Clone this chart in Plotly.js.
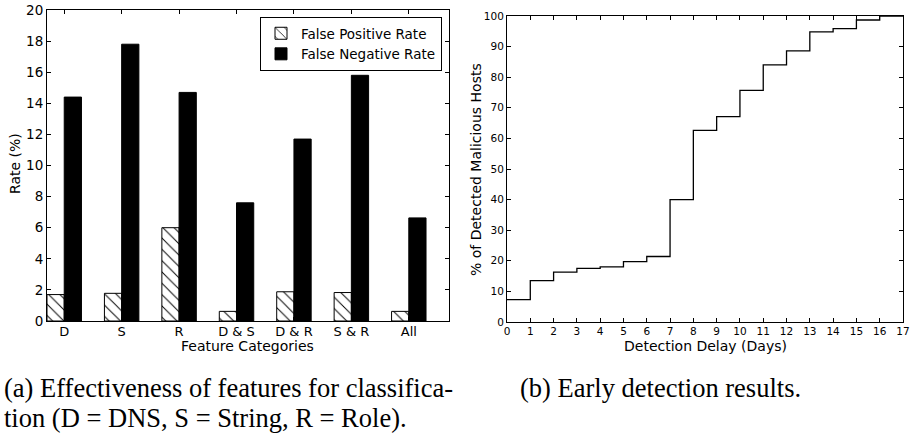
<!DOCTYPE html>
<html>
<head>
<meta charset="utf-8">
<script src="https://cdn.plot.ly/plotly-3.0.1.min.js"></script>
<style>html,body{margin:0;padding:0;background:#fff;}#chart{width:911px;height:433px;}</style>
</head>
<body>
<div id="chart"></div>
<script>
// Panel (a)
const categories = ["D", "S", "R", "D & S", "D & R", "S & R", "All"];
const falsePositiveRate = [1.7, 1.78, 6.0, 0.62, 1.88, 1.83, 0.62];
const falseNegativeRate = [14.4, 17.8, 14.7, 7.6, 11.7, 15.8, 6.63];
// Panel (b)
const delayDays = [0, 1, 2, 3, 4, 5, 6, 7, 8, 9, 10, 11, 12, 13, 14, 15, 16, 17];
const detectedPct = [7.3, 13.5, 16.3, 17.5, 18.0, 19.7, 21.4, 40.0, 62.6, 67.1, 75.7, 84.0, 88.6, 94.8, 95.9, 98.7, 100, 100];
const yTicksA = [0, 2, 4, 6, 8, 10, 12, 14, 16, 18, 20];
const yTicksB = [0, 10, 20, 30, 40, 50, 60, 70, 80, 90, 100];

const barW = 0.3;
const idx = categories.map((c, i) => i);
const fpX = idx.map(i => i + barW / 2);
const fnX = idx.map(i => i + barW * 1.5);
const tickX = idx.map(i => i + barW);

const W = 911, H = 433;
const px = v => v / W;
const py = v => 1 - v / H;

const sans = "DejaVu Sans";
const serif = "Liberation Serif";

const traces = [
  {
    type: "bar", name: "False Positive Rate", x: fpX, y: falsePositiveRate, width: barW,
    xaxis: "x", yaxis: "y",
    marker: {color: "white", line: {color: "black", width: 1},
      pattern: {shape: "\\", fgcolor: "black", bgcolor: "white", size: 8, solidity: 0.12}}
  },
  {
    type: "bar", name: "False Negative Rate", x: fnX, y: falseNegativeRate, width: barW,
    xaxis: "x", yaxis: "y",
    marker: {color: "black", line: {color: "black", width: 1}}
  },
  {
    type: "scatter", mode: "lines", x: delayDays, y: detectedPct, xaxis: "x2", yaxis: "y2",
    line: {shape: "hv", color: "black", width: 1.3}, showlegend: false
  }
];

const axisCommon = {
  showline: true, linecolor: "black", linewidth: 1, mirror: "ticks",
  ticks: "inside", ticklen: 4, tickcolor: "black", tickwidth: 1,
  showgrid: false, zeroline: false, fixedrange: true
};

const layout = {
  width: W, height: H,
  margin: {l: 0, r: 0, t: 0, b: 0},
  paper_bgcolor: "white", plot_bgcolor: "white",
  barmode: "overlay",
  showlegend: true,
  font: {family: sans, color: "black"},
  xaxis: Object.assign({}, axisCommon, {
    domain: [px(47), px(449)], range: [0, 7], tickmode: "array",
    tickvals: tickX, ticktext: categories, tickfont: {size: 13, family: sans}, anchor: "y",
    ticklabelstandoff: -2
  }),
  yaxis: Object.assign({}, axisCommon, {
    domain: [py(321), py(10)], range: [0, 20], tickmode: "array", tickvals: yTicksA,
    tickfont: {size: 13.5, family: sans}, anchor: "x"
  }),
  xaxis2: Object.assign({}, axisCommon, {
    domain: [px(507), px(903)], range: [0, 17], tickmode: "array", tickvals: delayDays,
    tickfont: {size: 10.5, family: sans}, anchor: "y2", ticklabelstandoff: -1
  }),
  yaxis2: Object.assign({}, axisCommon, {
    domain: [py(322), py(16)], range: [0, 100], tickmode: "array", tickvals: yTicksB,
    tickfont: {size: 10.5, family: sans}, anchor: "x2"
  }),
  legend: {
    x: px(442), y: py(17), xanchor: "right", yanchor: "top",
    bordercolor: "black", borderwidth: 1, bgcolor: "white",
    font: {size: 13.5, family: sans}, tracegroupgap: 0
  },
  annotations: [
    {text: "Rate (%)", xref: "paper", yref: "paper", x: px(15), y: py(164), textangle: -90,
     showarrow: false, font: {size: 14, family: sans}, xanchor: "center", yanchor: "middle"},
    {text: "Feature Categories", xref: "paper", yref: "paper", x: px(248), y: py(346),
     showarrow: false, font: {size: 14, family: sans}, xanchor: "center", yanchor: "middle"},
    {text: "% of Detected Malicious Hosts", xref: "paper", yref: "paper", x: px(476), y: py(170), textangle: -90,
     showarrow: false, font: {size: 14, family: sans}, xanchor: "center", yanchor: "middle"},
    {text: "Detection Delay (Days)", xref: "paper", yref: "paper", x: px(705), y: py(346),
     showarrow: false, font: {size: 14, family: sans}, xanchor: "center", yanchor: "middle"},
    {text: "(a) Effectiveness of features for classifica-", xref: "paper", yref: "paper", x: px(2), y: py(388),
     showarrow: false, font: {size: 26.5, family: serif}, xanchor: "left", yanchor: "middle"},
    {text: "tion (D = DNS, S = String, R = Role).", xref: "paper", yref: "paper", x: px(2), y: py(418),
     showarrow: false, font: {size: 26.5, family: serif}, xanchor: "left", yanchor: "middle"},
    {text: "(b) Early detection results.", xref: "paper", yref: "paper", x: px(518), y: py(388),
     showarrow: false, font: {size: 26.5, family: serif}, xanchor: "left", yanchor: "middle"}
  ]
};

Plotly.newPlot("chart", traces, layout, {displayModeBar: false, staticPlot: true});
</script>
</body>
</html>
